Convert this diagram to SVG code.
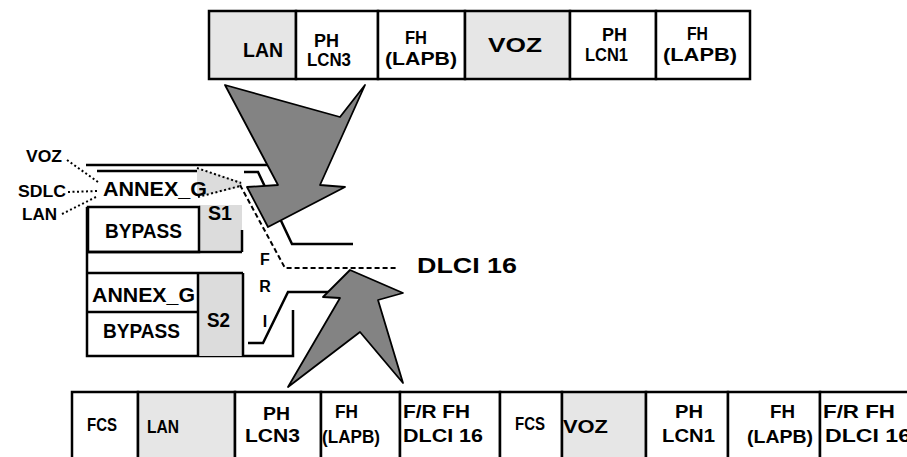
<svg xmlns="http://www.w3.org/2000/svg" width="907" height="457" viewBox="0 0 907 457">
<style>
text { font-family: "Liberation Sans", Arial, sans-serif; font-weight: bold; fill: #000; }
.cell { fill: #fff; stroke: #000; stroke-width: 2.5; }
.shade { fill: #e6e6e6; stroke: #000; stroke-width: 2.5; }
.fillonly { fill: #dcdcdc; stroke: none; }
.ln { fill: none; stroke: #000; stroke-width: 2.5; stroke-linejoin: miter; }
.dot { fill: none; stroke: #000; stroke-width: 2; stroke-dasharray: 2 2.5; }
.dash { fill: none; stroke: #000; stroke-width: 2; stroke-dasharray: 5 3; }
.arrow { fill: #838383; stroke: #000; stroke-width: 1.8; stroke-linejoin: round; }
.f16 { font-size: 16px; }
.f18 { font-size: 18px; }
.f20 { font-size: 20px; }
.f22 { font-size: 22px; }
</style>
<rect x="0" y="0" width="907" height="457" fill="#fff"/>

<!-- Top frame -->
<g id="top-frame">
  <g id="top-lan"><rect class="shade" x="209" y="11" width="87" height="68"/><text class="f20" x="243" y="57" textLength="40" lengthAdjust="spacingAndGlyphs">LAN</text></g>
  <g id="top-ph3"><rect class="cell" x="296" y="11" width="82" height="68"/><text class="f18" x="314" y="47" textLength="25" lengthAdjust="spacingAndGlyphs">PH</text><text class="f18" x="307" y="66" textLength="44" lengthAdjust="spacingAndGlyphs">LCN3</text></g>
  <g id="top-fh1"><rect class="cell" x="378" y="11" width="87" height="68"/><text class="f18" x="405" y="44" textLength="22" lengthAdjust="spacingAndGlyphs">FH</text><text class="f18" x="385" y="65" textLength="72" lengthAdjust="spacingAndGlyphs">(LAPB)</text></g>
  <g id="top-voz"><rect class="shade" x="465" y="11" width="105" height="68"/><text class="f20" x="488" y="52" textLength="54" lengthAdjust="spacingAndGlyphs">VOZ</text></g>
  <g id="top-ph1"><rect class="cell" x="570" y="11" width="86" height="68"/><text class="f18" x="602" y="41" textLength="25" lengthAdjust="spacingAndGlyphs">PH</text><text class="f18" x="585" y="61" textLength="43" lengthAdjust="spacingAndGlyphs">LCN1</text></g>
  <g id="top-fh2"><rect class="cell" x="656" y="11" width="94" height="68"/><text class="f18" x="687" y="40" textLength="21" lengthAdjust="spacingAndGlyphs">FH</text><text class="f18" x="663" y="61" textLength="74" lengthAdjust="spacingAndGlyphs">(LAPB)</text></g>
</g>

<!-- Left structure -->
<g id="router">
  <path class="ln" d="M86,165 H268"/>
  <path class="ln" d="M87,207 V356 H293 V310"/>
  <path class="ln" d="M97,171 H197" stroke-width="2"/>
  <polygon class="fillonly" points="197,168 242,182 242,187 197,197"/>
  <g id="s1"><rect class="fillonly" x="199" y="205" width="43" height="47"/><path class="ln" d="M242,230 V252"/><text class="f20" x="208" y="220" textLength="24" lengthAdjust="spacingAndGlyphs">S1</text></g>
  <g id="annexg1"><text class="f20" x="103" y="196" textLength="104" lengthAdjust="spacingAndGlyphs">ANNEX_G</text></g>
  <g id="bypass1"><rect class="cell" x="88" y="207" width="111" height="45"/><text class="f20" x="105" y="238" textLength="77" lengthAdjust="spacingAndGlyphs">BYPASS</text></g>
  <path class="ln" d="M87,252 H242"/>
  <g id="s2"><rect class="fillonly" x="198" y="273" width="45" height="83"/><path class="ln" d="M198,273 V356 M243,273 V356"/><text class="f20" x="207" y="327" textLength="23" lengthAdjust="spacingAndGlyphs">S2</text></g>
  <path class="ln" d="M87,273 H243"/>
  <g id="annexg2"><path class="ln" d="M87,312 H198"/><text class="f20" x="92" y="302" textLength="103" lengthAdjust="spacingAndGlyphs">ANNEX_G</text></g>
  <g id="bypass2"><text class="f20" x="103" y="338" textLength="77" lengthAdjust="spacingAndGlyphs">BYPASS</text></g>
  <g id="fri">
    <path class="ln" d="M244,172 H258 L292,244 H353"/>
    <path class="ln" d="M248,343 H263 L288,292 H345"/>
    <text class="f16" x="265" y="265" text-anchor="middle">F</text>
    <text class="f16" x="265" y="292" text-anchor="middle">R</text>
    <text class="f16" x="265" y="327" text-anchor="middle">I</text>
  </g>
</g>

<!-- Left labels -->
<g id="lbl-voz"><text class="f16" x="26" y="162" textLength="36" lengthAdjust="spacingAndGlyphs">VOZ</text></g>
<g id="lbl-sdlc"><text class="f16" x="18" y="197" textLength="48" lengthAdjust="spacingAndGlyphs">SDLC</text></g>
<g id="lbl-lan"><text class="f16" x="22" y="220" textLength="35" lengthAdjust="spacingAndGlyphs">LAN</text></g>
<g id="lbl-dlci"><text class="f22" x="417" y="273" textLength="100" lengthAdjust="spacingAndGlyphs">DLCI 16</text></g>

<!-- Connectors -->
<g id="connectors">
  <path class="dot" d="M67,160 L98,182"/>
  <path class="dot" d="M68,192 L98,191"/>
  <path class="dot" d="M62,214 L98,196"/>
  <path class="dot" d="M197,168 L241,183"/>
  <path class="dot" d="M198,197 L240,186"/>
  <path class="dash" d="M240,185 L285,268 H397"/>
</g>

<!-- Arrows -->
<g id="arrow-down"><polygon class="arrow" points="225,85 340,117 365,85 320,185 345,187 268,227 247,187 278,185"/></g>
<g id="arrow-up"><polygon class="arrow" points="350,270 403,293 378,300 403,383 360,332 288,387 340,298 323,297"/></g>

<!-- Bottom frame -->
<g id="bottom-frame">
  <g id="b-fcs1"><rect class="cell" x="72" y="392" width="66" height="80"/><text class="f18" x="87" y="431" textLength="30" lengthAdjust="spacingAndGlyphs">FCS</text></g>
  <g id="b-lan"><rect class="shade" x="138" y="392" width="97" height="80"/><text class="f18" x="147" y="433" textLength="32" lengthAdjust="spacingAndGlyphs">LAN</text></g>
  <g id="b-ph3"><rect class="cell" x="235" y="392" width="86" height="80"/><text class="f18" x="263" y="420" textLength="27" lengthAdjust="spacingAndGlyphs">PH</text><text class="f18" x="245" y="442" textLength="55" lengthAdjust="spacingAndGlyphs">LCN3</text></g>
  <g id="b-fh1"><rect class="cell" x="321" y="392" width="79" height="80"/><text class="f18" x="335" y="418" textLength="23" lengthAdjust="spacingAndGlyphs">FH</text><text class="f18" x="322" y="443" textLength="58" lengthAdjust="spacingAndGlyphs">(LAPB)</text></g>
  <g id="b-fr1"><rect class="cell" x="400" y="392" width="100" height="80"/><text class="f18" x="403" y="418" textLength="67" lengthAdjust="spacingAndGlyphs">F/R FH</text><text class="f18" x="403" y="442" textLength="80" lengthAdjust="spacingAndGlyphs">DLCI 16</text></g>
  <g id="b-fcs2"><rect class="cell" x="500" y="392" width="62" height="80"/><text class="f18" x="515" y="430" textLength="30" lengthAdjust="spacingAndGlyphs">FCS</text></g>
  <g id="b-voz"><rect class="shade" x="562" y="392" width="84" height="80"/><text class="f18" x="563" y="433" textLength="45" lengthAdjust="spacingAndGlyphs">VOZ</text></g>
  <g id="b-ph1"><rect class="cell" x="646" y="392" width="82" height="80"/><text class="f18" x="675" y="418" textLength="28" lengthAdjust="spacingAndGlyphs">PH</text><text class="f18" x="662" y="442" textLength="53" lengthAdjust="spacingAndGlyphs">LCN1</text></g>
  <g id="b-fh2"><rect class="cell" x="728" y="392" width="92" height="80"/><text class="f18" x="770" y="418" textLength="25" lengthAdjust="spacingAndGlyphs">FH</text><text class="f18" x="747" y="443" textLength="66" lengthAdjust="spacingAndGlyphs">(LAPB)</text></g>
  <g id="b-fr2"><rect class="cell" x="820" y="392" width="100" height="80"/><text class="f18" x="823" y="418" textLength="72" lengthAdjust="spacingAndGlyphs">F/R FH</text><text class="f18" x="825" y="442" textLength="86" lengthAdjust="spacingAndGlyphs">DLCI 16</text></g>
</g>
</svg>
